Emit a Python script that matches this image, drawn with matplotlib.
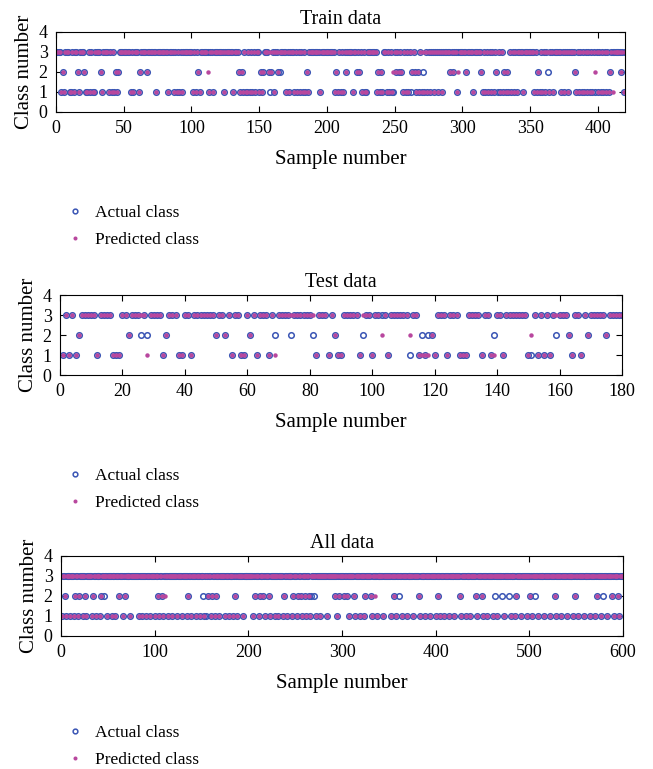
import numpy as np
import matplotlib.pyplot as plt
from matplotlib.lines import Line2D

plt.rcParams['font.family'] = ['Liberation Serif', 'DejaVu Serif']
plt.rcParams['font.size'] = 13

BLUE = '#3a55b4'
MAGENTA = '#b8479e'

# --- data (samples not listed are class 3) -------------------------------

TRAIN_N = 420
train_class1 = [4, 6, 10, 11, 13, 17, 22, 23, 25, 27, 28, 34, 39, 41, 43, 45, 55, 57, 61,
                74, 83, 87, 89, 91, 93, 101, 103, 106, 113, 116, 124, 131, 136, 138, 140,
                141, 143, 145, 147, 150, 152, 161, 170, 172, 176, 178, 180, 182, 184, 186,
                195, 206, 208, 210, 212, 219, 226, 228, 229, 237, 239, 241, 244, 246, 248,
                256, 258, 260, 266, 268, 270, 272, 274, 276, 279, 282, 285, 296, 308, 315,
                317, 319, 321, 323, 328, 330, 332, 334, 336, 338, 340, 345, 353, 355, 357,
                359, 361, 364, 367, 373, 375, 378, 384, 386, 388, 390, 392, 394, 396, 400,
                402, 404, 406, 408, 419]
train_class2 = [5, 16, 21, 33, 44, 46, 62, 67, 105, 135, 137, 151, 153, 157, 159, 164, 185,
                207, 214, 222, 224, 238, 240, 251, 253, 255, 263, 265, 267, 291, 293, 303,
                314, 325, 331, 333, 356, 383, 409, 417]
# (sample, actual, predicted) where the two differ
train_miss = [(112, 3, 2), (158, 1, 3), (165, 2, 3), (249, 1, 2), (262, 1, 3), (271, 2, 3),
              (297, 3, 2), (326, 1, 3), (363, 2, 3), (398, 1, 2), (411, 3, 1)]

TEST_N = 180
test_class1 = [1, 3, 5, 12, 17, 18, 19, 33, 38, 39, 42, 55, 58, 59, 63, 67, 82, 86, 89, 90,
               96, 100, 105, 115, 117, 120, 124, 128, 129, 130, 135, 138, 142, 150, 153,
               155, 157, 164, 167]
test_class2 = [6, 22, 34, 50, 53, 61, 88, 119, 163, 169, 175]
test_miss = [(26, 2, 3), (28, 2, 1), (69, 2, 1), (74, 2, 3), (81, 2, 3), (97, 2, 3),
             (103, 3, 2), (112, 1, 2), (116, 2, 1), (118, 2, 1), (139, 2, 1), (151, 1, 2),
             (159, 2, 3)]

ALL_N = 600
all_class1 = [1, 5, 10, 14, 18, 23, 27, 33, 37, 42, 49, 54, 58, 66, 74, 83, 87, 91, 95, 100,
              105, 109, 114, 118, 124, 129, 134, 139, 144, 148, 153, 160, 164, 169, 175,
              179, 184, 188, 194, 205, 211, 218, 223, 228, 232, 237, 241, 247, 252, 257,
              262, 266, 272, 276, 284, 295, 307, 314, 319, 324, 332, 337, 344, 352, 358,
              364, 369, 376, 383, 389, 394, 400, 405, 409, 414, 420, 427, 432, 437, 444,
              450, 455, 461, 466, 473, 480, 485, 491, 497, 503, 509, 516, 522, 528, 534,
              540, 547, 552, 558, 565, 570, 576, 583, 590, 596]
all_class2 = [4, 15, 19, 26, 34, 43, 62, 68, 104, 108, 136, 157, 161, 166, 186, 207, 212,
              216, 222, 238, 248, 253, 256, 261, 265, 292, 297, 302, 305, 313, 325, 331,
              355, 382, 402, 426, 443, 449, 486, 501, 527, 549, 572, 588, 595]
all_miss = [(46, 2, 3), (111, 3, 2), (152, 2, 3), (155, 1, 3), (267, 2, 3), (270, 2, 3),
            (335, 3, 2), (361, 2, 3), (463, 2, 3), (471, 2, 3), (478, 2, 3), (506, 2, 3),
            (579, 2, 3)]


def build(n, c1, c2, miss):
    actual = np.full(n, 3)
    actual[np.array(c1) - 1] = 1
    actual[np.array(c2) - 1] = 2
    pred = actual.copy()
    for s, a, p in miss:
        actual[s - 1] = a
        pred[s - 1] = p
    return np.arange(1, n + 1), actual, pred


# title, n, class lists, x ticks, axes box in pixels (left, right, top, bottom), legend gap
panels = [
    ("Train data", TRAIN_N, train_class1, train_class2, train_miss,
     [0, 50, 100, 150, 200, 250, 300, 350, 400], (56, 625, 32, 112), 84),
    ("Test data", TEST_N, test_class1, test_class2, test_miss,
     list(range(0, 181, 20)), (60, 622, 295, 375), 84),
    ("All data", ALL_N, all_class1, all_class2, all_miss,
     list(range(0, 601, 100)), (61, 623, 556, 636), 80),
]

W, H = 653, 769
fig = plt.figure(figsize=(W / 100, H / 100), dpi=100)

for title, n, c1, c2, miss, xt, (x0, x1, y0, y1), gap in panels:
    ax = fig.add_axes([x0 / W, 1 - y1 / H, (x1 - x0) / W, (y1 - y0) / H])
    x, actual, pred = build(n, c1, c2, miss)
    ax.plot(x, actual, 'o', ls='none', ms=4.0, mfc='none', mec=BLUE, mew=1.1)
    ax.plot(x, pred, 'o', ls='none', ms=3.2, mfc=MAGENTA, mec='none')
    ax.set_xlim(0, n)
    ax.set_ylim(0, 4)
    ax.set_xticks(xt)
    ax.set_yticks([0, 1, 2, 3, 4])
    ax.tick_params(direction='in', top=True, right=True, length=4, width=0.8,
                   labelsize=13)
    ax.tick_params(axis='x', pad=6)
    ax.tick_params(axis='y', pad=6)
    ax.set_title(title, fontsize=14.5, pad=6)
    ax.set_xlabel("Sample number", fontsize=15, labelpad=9)
    ax.set_ylabel("Class number", fontsize=15, labelpad=3)

    handles = [
        Line2D([], [], ls='none', marker='o', ms=3.4, mfc='none', mec=BLUE, mew=1.1),
        Line2D([], [], ls='none', marker='o', ms=2.9, mfc=MAGENTA, mec='none'),
    ]
    fig.legend(handles, ["Actual class", "Predicted class"], loc='upper left',
               bbox_to_anchor=(58 / W, 1 - (y1 + gap) / H), frameon=False,
               handlelength=1.0, handletextpad=0.65, labelspacing=0.62,
               borderpad=0, fontsize=12.5)

fig.savefig("out.png", dpi=100)
